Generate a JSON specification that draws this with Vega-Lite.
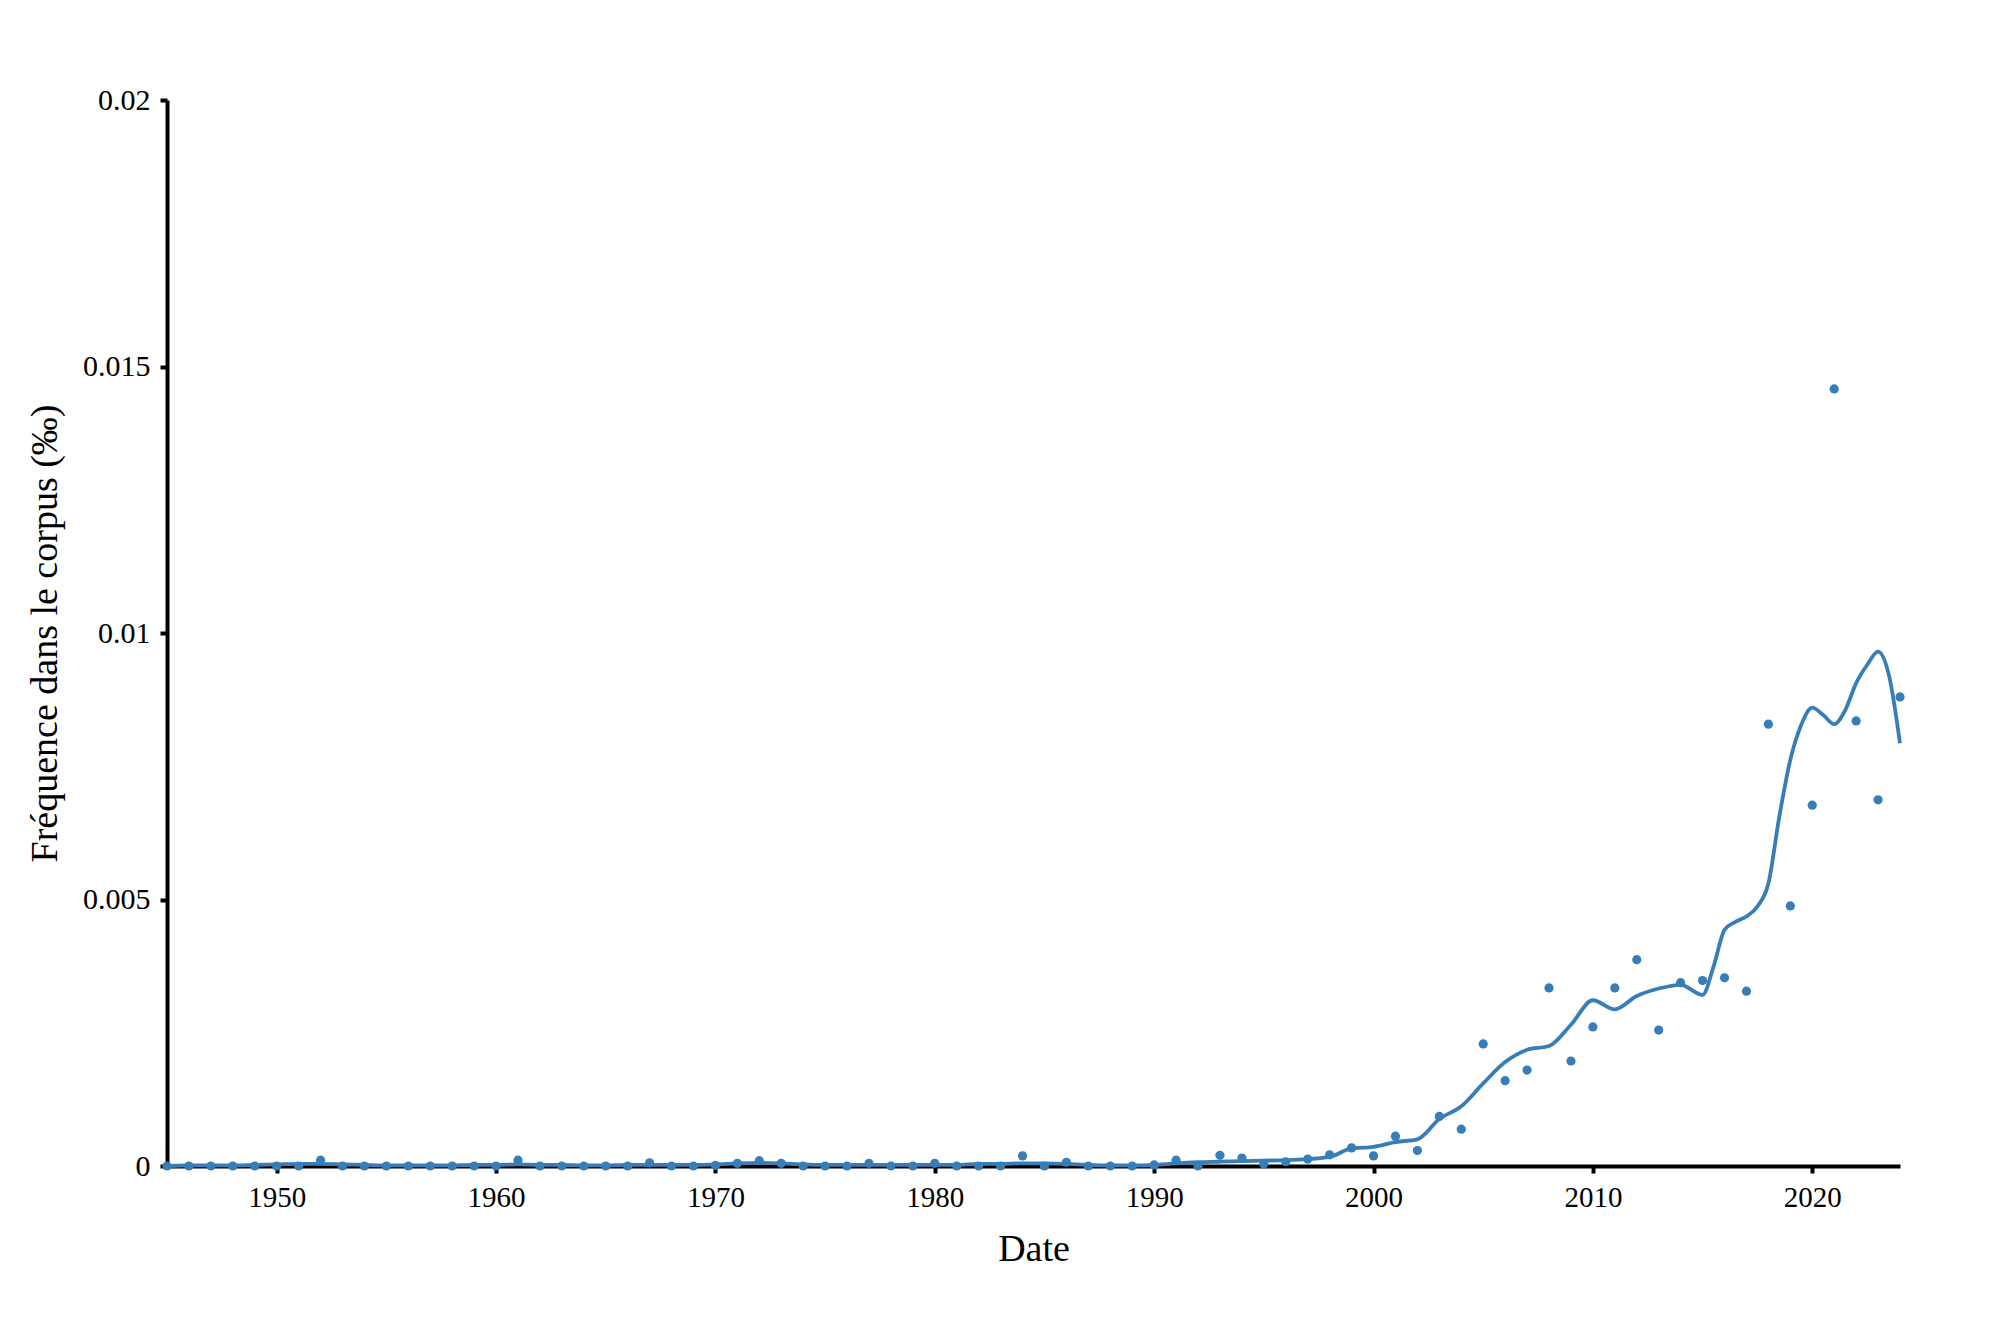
{
  "$schema": "https://vega.github.io/schema/vega-lite/v6.json",
  "width": 1733,
  "height": 1066,
  "autosize": {"type": "none"},
  "padding": {"left": 167, "top": 100, "right": 100, "bottom": 167},
  "background": "white",
  "config": {"view": {"stroke": null}, "font": "Liberation Serif"},
  "datasets": {
    "points": [
      {"year": 1945, "freq": 0}, {"year": 1946, "freq": 0}, {"year": 1947, "freq": 0}, {"year": 1948, "freq": 0},
      {"year": 1949, "freq": 0}, {"year": 1950, "freq": 0}, {"year": 1951, "freq": 0}, {"year": 1952, "freq": 0.00011},
      {"year": 1953, "freq": 0}, {"year": 1954, "freq": 0}, {"year": 1955, "freq": 0}, {"year": 1956, "freq": 0},
      {"year": 1957, "freq": 0}, {"year": 1958, "freq": 0}, {"year": 1959, "freq": 0}, {"year": 1960, "freq": 0},
      {"year": 1961, "freq": 0.00011}, {"year": 1962, "freq": 0}, {"year": 1963, "freq": 0}, {"year": 1964, "freq": 0},
      {"year": 1965, "freq": 0}, {"year": 1966, "freq": 0}, {"year": 1967, "freq": 0.00006}, {"year": 1968, "freq": 0},
      {"year": 1969, "freq": 0}, {"year": 1970, "freq": 0.00001}, {"year": 1971, "freq": 0.00005}, {"year": 1972, "freq": 0.0001},
      {"year": 1973, "freq": 0.00005}, {"year": 1974, "freq": 0}, {"year": 1975, "freq": 0}, {"year": 1976, "freq": 0},
      {"year": 1977, "freq": 0.00005}, {"year": 1978, "freq": 0}, {"year": 1979, "freq": 0}, {"year": 1980, "freq": 0.00005},
      {"year": 1981, "freq": 0}, {"year": 1982, "freq": 0}, {"year": 1983, "freq": 0}, {"year": 1984, "freq": 0.00019},
      {"year": 1985, "freq": 0}, {"year": 1986, "freq": 0.00007}, {"year": 1987, "freq": 0}, {"year": 1988, "freq": 0},
      {"year": 1989, "freq": 0}, {"year": 1990, "freq": 0.00002}, {"year": 1991, "freq": 0.00011}, {"year": 1992, "freq": 0},
      {"year": 1993, "freq": 0.0002}, {"year": 1994, "freq": 0.00015}, {"year": 1995, "freq": 0.00004}, {"year": 1996, "freq": 0.00008},
      {"year": 1997, "freq": 0.00013}, {"year": 1998, "freq": 0.00021}, {"year": 1999, "freq": 0.00034}, {"year": 2000, "freq": 0.00019},
      {"year": 2001, "freq": 0.00056}, {"year": 2002, "freq": 0.00029}, {"year": 2003, "freq": 0.00093}, {"year": 2004, "freq": 0.00069},
      {"year": 2005, "freq": 0.00229}, {"year": 2006, "freq": 0.0016}, {"year": 2007, "freq": 0.0018}, {"year": 2008, "freq": 0.00334},
      {"year": 2009, "freq": 0.00197}, {"year": 2010, "freq": 0.00261}, {"year": 2011, "freq": 0.00334}, {"year": 2012, "freq": 0.00387},
      {"year": 2013, "freq": 0.00255}, {"year": 2014, "freq": 0.00344}, {"year": 2015, "freq": 0.00348}, {"year": 2016, "freq": 0.00353},
      {"year": 2017, "freq": 0.00328}, {"year": 2018, "freq": 0.00829}, {"year": 2019, "freq": 0.00488}, {"year": 2020, "freq": 0.00677},
      {"year": 2021, "freq": 0.01458}, {"year": 2022, "freq": 0.00835}, {"year": 2023, "freq": 0.00687}, {"year": 2024, "freq": 0.0088}
    ],
    "smooth": [
      {"year": 1945, "freq": 0.0}, {"year": 1946, "freq": 0.00001}, {"year": 1947, "freq": 0.00001}, {"year": 1948, "freq": 0.00001},
      {"year": 1949, "freq": 0.00002}, {"year": 1950, "freq": 0.00003}, {"year": 1951, "freq": 0.00004}, {"year": 1952, "freq": 0.00004},
      {"year": 1953, "freq": 0.00003}, {"year": 1954, "freq": 0.00002}, {"year": 1955, "freq": 0.00001}, {"year": 1956, "freq": 0.00001},
      {"year": 1957, "freq": 0.00001}, {"year": 1958, "freq": 0.00001}, {"year": 1959, "freq": 0.00002}, {"year": 1960, "freq": 0.00002},
      {"year": 1961, "freq": 0.00003}, {"year": 1962, "freq": 0.00002}, {"year": 1963, "freq": 0.00002}, {"year": 1964, "freq": 0.00001},
      {"year": 1965, "freq": 0.00001}, {"year": 1966, "freq": 0.00002}, {"year": 1967, "freq": 0.00002}, {"year": 1968, "freq": 0.00002},
      {"year": 1969, "freq": 0.00002}, {"year": 1970, "freq": 0.00003}, {"year": 1971, "freq": 0.00005}, {"year": 1972, "freq": 0.00006},
      {"year": 1973, "freq": 0.00005}, {"year": 1974, "freq": 0.00003}, {"year": 1975, "freq": 0.00002}, {"year": 1976, "freq": 0.00002},
      {"year": 1977, "freq": 0.00002}, {"year": 1978, "freq": 0.00002}, {"year": 1979, "freq": 0.00002}, {"year": 1980, "freq": 0.00002},
      {"year": 1981, "freq": 0.00002}, {"year": 1982, "freq": 0.00004}, {"year": 1983, "freq": 0.00004}, {"year": 1984, "freq": 0.00005},
      {"year": 1985, "freq": 0.00005}, {"year": 1986, "freq": 0.00004}, {"year": 1987, "freq": 0.00002}, {"year": 1988, "freq": 0.00001},
      {"year": 1989, "freq": 0.00001}, {"year": 1990, "freq": 0.00002}, {"year": 1991, "freq": 0.00005}, {"year": 1992, "freq": 0.00007},
      {"year": 1993, "freq": 0.00008}, {"year": 1994, "freq": 0.00009}, {"year": 1995, "freq": 0.0001}, {"year": 1996, "freq": 0.00011},
      {"year": 1997, "freq": 0.00013}, {"year": 1998, "freq": 0.00017}, {"year": 1999, "freq": 0.00033}, {"year": 2000, "freq": 0.00036},
      {"year": 2001, "freq": 0.00045}, {"year": 2002, "freq": 0.0005}, {"year": 2003, "freq": 0.00088}, {"year": 2004, "freq": 0.00112},
      {"year": 2005, "freq": 0.00155}, {"year": 2006, "freq": 0.00195}, {"year": 2007, "freq": 0.00218}, {"year": 2008, "freq": 0.00225},
      {"year": 2009, "freq": 0.00265}, {"year": 2010, "freq": 0.00311}, {"year": 2011, "freq": 0.00294}, {"year": 2012, "freq": 0.00319},
      {"year": 2013, "freq": 0.00333}, {"year": 2014, "freq": 0.0034}, {"year": 2015, "freq": 0.00321}, {"year": 2015.5, "freq": 0.00374},
      {"year": 2016, "freq": 0.00443}, {"year": 2016.5, "freq": 0.00458}, {"year": 2017, "freq": 0.00468}, {"year": 2017.5, "freq": 0.00487},
      {"year": 2018, "freq": 0.0053}, {"year": 2018.5, "freq": 0.00656}, {"year": 2019, "freq": 0.00762}, {"year": 2019.5, "freq": 0.00828},
      {"year": 2020, "freq": 0.0086}, {"year": 2020.5, "freq": 0.00846}, {"year": 2021, "freq": 0.00829}, {"year": 2021.5, "freq": 0.00855},
      {"year": 2022, "freq": 0.00906}, {"year": 2022.5, "freq": 0.0094}, {"year": 2023, "freq": 0.00965}, {"year": 2023.5, "freq": 0.0092},
      {"year": 2024, "freq": 0.00793}
    ]
  },
  "encoding": {
    "x": {
      "field": "year",
      "type": "quantitative",
      "scale": {"domain": [1945, 2024], "nice": false, "zero": false},
      "axis": {
        "title": "Date",
        "values": [1950, 1960, 1970, 1980, 1990, 2000, 2010, 2020],
        "format": "d",
        "grid": false,
        "domainColor": "black",
        "domainWidth": 4,
        "tickColor": "black",
        "tickWidth": 4,
        "tickSize": 7,
        "labelFont": "Liberation Serif",
        "labelFontSize": 29,
        "labelColor": "black",
        "labelPadding": 10,
        "labelFlush": false,
        "titleFont": "Liberation Serif",
        "titleFontSize": 38,
        "titleFontWeight": "normal",
        "titleColor": "black",
        "titlePadding": 18
      }
    },
    "y": {
      "field": "freq",
      "type": "quantitative",
      "scale": {"domain": [0, 0.02], "nice": false},
      "axis": {
        "title": "Fréquence dans le corpus (‰)",
        "values": [0, 0.005, 0.01, 0.015, 0.02],
        "format": "~g",
        "grid": false,
        "domainColor": "black",
        "domainWidth": 4,
        "tickColor": "black",
        "tickWidth": 4,
        "tickSize": 7,
        "labelFont": "Liberation Serif",
        "labelFontSize": 30,
        "labelColor": "black",
        "labelPadding": 10,
        "labelFlush": false,
        "titleFont": "Liberation Serif",
        "titleFontSize": 38,
        "titleFontWeight": "normal",
        "titleColor": "black",
        "titlePadding": 18
      }
    }
  },
  "layer": [
    {
      "data": {"name": "smooth"},
      "mark": {"type": "line", "interpolate": "monotone", "color": "#377eb8", "strokeWidth": 3.8}
    },
    {
      "data": {"name": "points"},
      "mark": {"type": "circle", "color": "#377eb8", "size": 85, "opacity": 1}
    }
  ]
}
